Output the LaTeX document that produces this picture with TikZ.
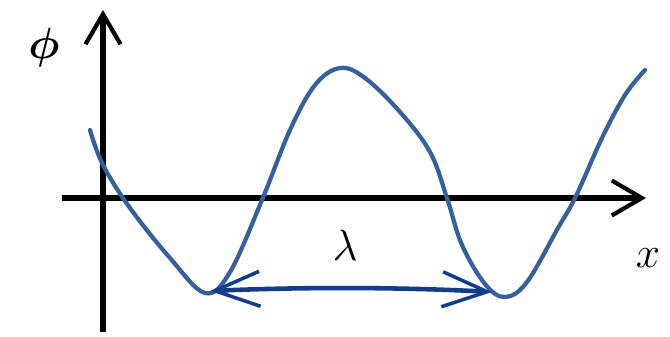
\documentclass[tikz,border=0pt]{standalone}
\usepackage{tikz}
\usepackage{amsmath, amssymb, bm}
\usetikzlibrary{arrows.meta, positioning}
\definecolor{wavecol}{RGB}{55, 95, 155}
\definecolor{lamcol}{RGB}{20, 60, 140}

\begin{document}
\begin{tikzpicture}[
  x=0.2mm, y=-0.2mm,
  axis/.style={line width=3.2pt, -{Straight Barb[length=6mm, width=7mm, line width=2.4pt]}},
  wave/.style={wavecol, line width=2.4pt, line cap=round},
  span/.style={lamcol, line width=2.6pt, {Straight Barb[length=9mm, width=7mm, line width=2pt]}-{Straight Barb[length=9mm, width=7mm, line width=2pt]}},
  lbl/.style={font=\fontsize{34}{40}\selectfont, inner sep=0pt}
]
  \useasboundingbox (0,0) rectangle (670,336);

  % Axes
  \coordinate (o) at (103,198);
  \coordinate (ybot) at (103,332);
  \coordinate (ytop) at (103,10);
  \coordinate (xleft) at (62,198);
  \coordinate (xright) at (646,198);
  \draw[axis] (ybot) -- (ytop);
  \draw[axis] (xleft) -- (xright);

  % Labels
  \node[lbl, font=\fontsize{44}{50}\selectfont] (phi) at (44,48) {$\bm{\phi}$};
  \node[lbl] (xlab) at (648,258) {$x$};
  \node[lbl] (lam) at (345,245) {$\lambda$};

  % Wave
  \draw[wave] plot[smooth, tension=0.6] coordinates {
    (90,130) (103,165) (130,208) (170,258) (205,293) (230,272) (262,200)
    (290,130) (315,85) (340,68) (365,78) (400,112) (430,152) (447,198)
    (462,245) (485,284) (505,297) (527,282) (558,228) (576,196)
    (602,138) (625,95) (645,70)};

  % Wavelength
  \coordinate (t1) at (210,291);
  \coordinate (t2) at (492,292);
  \draw[span] (t1) .. controls (300,287) and (400,287) .. (t2);
\end{tikzpicture}
\end{document}
